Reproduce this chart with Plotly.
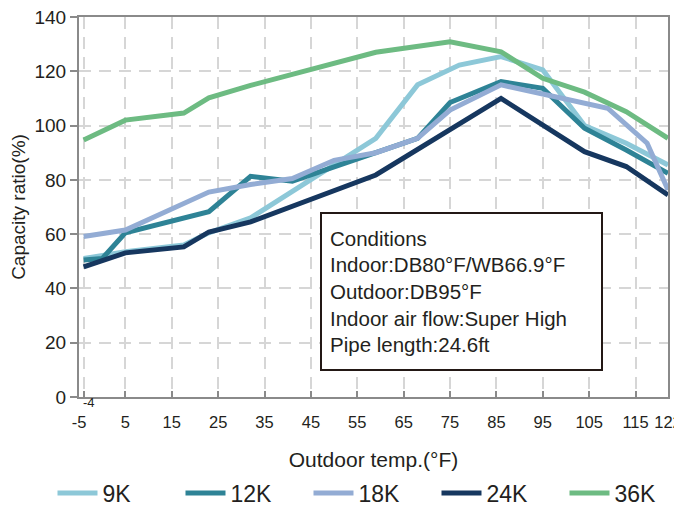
import plotly.graph_objects as go

# ---- data ----
x_9k = [-4, 5, 17.6, 23, 32, 59, 68, 77, 86, 95, 104, 113, 122]
y_9k = [51, 53.5, 56, 60.5, 66, 95.3, 115, 122.3, 125.4, 120.5, 100, 93.5, 85.5]

x_12k = [-4, 0, 5, 23, 32, 41, 68, 75, 86, 95, 104, 113, 122]
y_12k = [50.5, 51, 60.5, 68.3, 81.3, 79.5, 95.3, 108.5, 116.2, 113.7, 99, 91, 82.4]

x_18k = [-4, 5, 23, 32, 41, 50, 59, 68, 75, 86, 109, 117.5, 122]
y_18k = [59.1, 61.5, 75.5, 78.3, 80.5, 87.2, 90, 95.3, 105.7, 115, 106.4, 93.5, 76.3]

x_24k = [-4, 5, 17.6, 23, 32, 59, 86, 104, 113, 122]
y_24k = [47.9, 53.1, 55.3, 60.8, 64.5, 81.8, 110, 90.4, 84.9, 74.4]

x_36k = [-4, 5, 17.6, 23, 32, 41, 50, 59, 75, 86, 95, 104, 113, 122]
y_36k = [94.7, 102, 104.6, 110.2, 114.8, 119, 123, 127, 130.9, 127.2, 117.4, 112.3, 105.1, 95.3]

series_names = ["9K", "12K", "18K", "24K", "36K"]
series_colors = ["#8DC8D8", "#2E8396", "#93ACD4", "#16375F", "#6DBB82"]

x_tickvals = [-5, -4, 5, 15, 25, 35, 45, 55, 65, 75, 85, 95, 105, 115, 122]
x_ticktext = ["-5", "", "5", "15", "25", "35", "45", "55", "65", "75", "85", "95", "105", "115", "122"]
y_tickvals = [0, 20, 40, 60, 80, 100, 120, 140]

conditions_text = ("Conditions<br>Indoor:DB80°F/WB66.9°F<br>Outdoor:DB95°F<br>"
                   "Indoor air flow:Super High<br>Pipe length:24.6ft")

# ---- figure ----
FONT = "Liberation Sans, Arial, sans-serif"
TXT = "#231f20"
AX = "#8a8a8a"
GRID = "#d6d6d6"

fig = go.Figure()
for xs, ys, name, col in zip([x_9k, x_12k, x_18k, x_24k, x_36k],
                             [y_9k, y_12k, y_18k, y_24k, y_36k],
                             series_names, series_colors):
    fig.add_trace(go.Scatter(x=xs, y=ys, mode="lines", name=name,
                             line=dict(color=col, width=5)))

# the page body adds an 8px margin, so the figure is 674x502 placed at (8, 8)
fig.update_layout(
    width=674, height=502,
    margin=dict(l=71, r=14, t=9, b=113, autoexpand=False),
    plot_bgcolor="white", paper_bgcolor="white",
    font=dict(family=FONT, color=TXT, size=18),
    showlegend=True,
    legend=dict(orientation="h", x=-0.045, xanchor="left", y=-0.2526, yanchor="middle",
                font=dict(family=FONT, size=23, color=TXT),
                entrywidth=73, itemwidth=40, tracegroupgap=0),
)

fig.update_xaxes(
    range=[-5, 122], tickmode="array", tickvals=x_tickvals, ticktext=x_ticktext,
    showline=True, linecolor=AX, linewidth=2, mirror=True,
    ticks="inside", ticklen=6, tickcolor=AX, tickwidth=1.5,
    showgrid=True, gridcolor=GRID, gridwidth=2, griddash="12px,8px",
    zeroline=False, automargin=False, ticklabelstandoff=9, ticklabeloverflow="allow",
    tickfont=dict(family=FONT, size=16.5, color=TXT),
    title=dict(text="Outdoor temp.(°F)", font=dict(family=FONT, size=21, color=TXT), standoff=23),
)
fig.update_yaxes(
    range=[0, 140], tickmode="array", tickvals=y_tickvals,
    showline=True, linecolor=AX, linewidth=2, mirror=True,
    ticks="outside", ticklen=7, tickcolor=AX, tickwidth=1.5,
    showgrid=True, gridcolor=GRID, gridwidth=2, griddash="12px,8px",
    zeroline=False, automargin=False, ticklabeloverflow="allow",
    tickfont=dict(family=FONT, size=19, color=TXT),
    title=dict(text="Capacity ratio(%)", font=dict(family=FONT, size=19, color=TXT), standoff=6),
)

# raised "-4" tick label
fig.add_annotation(x=-4, xref="x", y=0, yref="paper", yanchor="top", yshift=3, xshift=5,
                   borderpad=0, text="-4", showarrow=False,
                   font=dict(family=FONT, size=13, color=TXT))

# conditions box
fig.add_annotation(x=0.409, xref="paper", xanchor="left", y=0.487, yref="paper", yanchor="top",
                   text=conditions_text, showarrow=False, align="left", valign="middle",
                   width=263, height=139, borderpad=8, borderwidth=2, bordercolor="#231815",
                   bgcolor="white", font=dict(family=FONT, size=20.5, color=TXT))

fig.write_html("out.html")
